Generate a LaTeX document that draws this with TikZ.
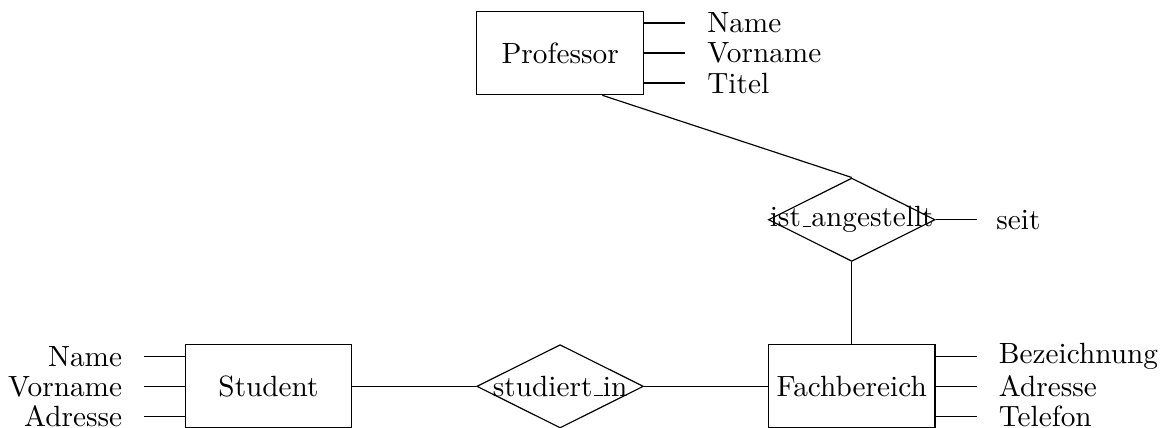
\documentclass[tikz,border=0pt]{standalone}
\usetikzlibrary{shapes.geometric,calc}
% short low rule used as the underscore in relationship names
\newcommand{\lowbar}{\leavevmode\kern.06em\vbox{\hrule width.3em}}
\begin{document}
\begin{tikzpicture}[
  entity/.style={draw, rectangle, minimum width=2cm, minimum height=1cm, inner sep=0pt},
  relation/.style={draw, diamond, minimum width=2cm, minimum height=1cm, inner sep=0pt},
  attrR/.style={inner sep=0pt, anchor=west},
  attrL/.style={inner sep=0pt, anchor=east},
]
\useasboundingbox (-3.223,-0.492) rectangle (10.76,4.637);

% entities
\node[entity] (stud) at (0,0) {Student};
\node[entity] (fb)   at (7,0) {Fachbereich};
\node[entity] (prof) at (3.5,4) {Professor};

% relationships (fixed size, label laid on top)
\node[relation] (si) at (3.5,0) {};
\node (silabel) at (si.center) {studiert\lowbar in};
\node[relation] (ia) at (7,2) {};
\node (ialabel) at (ia.center) {ist\lowbar angestellt};

% relationship connectors
\draw (stud.east) -- (si.west);
\draw (si.east) -- (fb.west);
\draw (ia.south) -- (fb.north);
\draw (prof.-45) -- (ia.north);

% relationship attribute
\node (seit) at (9,2) {seit};
\coordinate (seitend) at (8.5,2);
\draw (ia.east) -- (seitend);

% Professor attributes
\node[attrR] (pname)  at (5.26,4.36) {Name};
\node[attrR] (pvname) at (5.26,4.0)  {Vorname};
\node[attrR] (ptitel) at (5.26,3.64) {Titel};
\foreach \a in {pname,pvname,ptitel}
  \draw (prof.east |- \a.west) -- ($(\a.west)+(-0.26,0)$);

% Fachbereich attributes
\node[attrR] (fbez)  at (8.76,0.36)  {Bezeichnung};
\node[attrR] (fadr)  at (8.76,0.0)   {Adresse};
\node[attrR] (ftel)  at (8.76,-0.36) {Telefon};
\foreach \a in {fbez,fadr,ftel}
  \draw (fb.east |- \a.west) -- ($(\a.west)+(-0.26,0)$);

% Student attributes
\node[attrL] (sname)  at (-1.75,0.36)  {Name};
\node[attrL] (svname) at (-1.75,0.0)   {Vorname};
\node[attrL] (sadr)   at (-1.75,-0.36) {Adresse};
\foreach \a in {sname,svname,sadr}
  \draw (stud.west |- \a.east) -- ($(\a.east)+(0.25,0)$);
\end{tikzpicture}
\end{document}
